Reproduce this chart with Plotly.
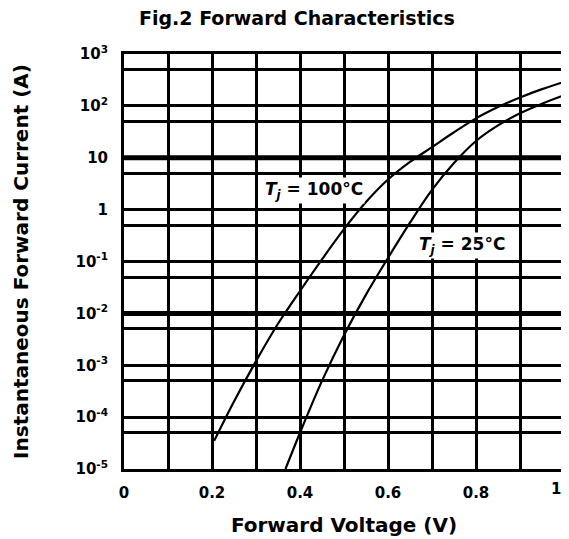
import plotly.graph_objects as go

# ---- data ----
v_100 = [0.205, 0.25, 0.30, 0.35, 0.40, 0.45, 0.50, 0.55, 0.60, 0.65, 0.70, 0.75, 0.80, 0.85, 0.90, 0.95, 1.00]
i_100 = [3.5e-5, 2.0e-4, 1.2e-3, 6.3e-3, 0.027, 0.11, 0.42, 1.4, 3.8, 8.3, 16.0, 31.0, 57.5, 95.0, 145.0, 210.0, 290.0]

v_25 = [0.367, 0.40, 0.45, 0.50, 0.55, 0.60, 0.65, 0.70, 0.75, 0.80, 0.85, 0.90, 0.95, 1.00]
i_25 = [1.0e-5, 5.0e-5, 5.0e-4, 3.8e-3, 0.023, 0.117, 0.56, 2.4, 7.9, 21.0, 42.0, 72.0, 110.0, 160.0]

x_grid = [0.0, 0.1, 0.2, 0.3, 0.4, 0.5, 0.6, 0.7, 0.8, 0.9, 1.0]
x_labels = ["0", "", "0.2", "", "0.4", "", "0.6", "", "0.8", "", ""]

y_decades = [1e-5, 1e-4, 1e-3, 1e-2, 1e-1, 1, 10, 100, 1000]
y_labels = ["10<sup>-5</sup>", "10<sup>-4</sup>", "10<sup>-3</sup>", "10<sup>-2</sup>",
            "10<sup>-1</sup>", "1", "10", "10<sup>2</sup>", "10<sup>3</sup>"]
y_fives = [5e-5, 5e-4, 5e-3, 5e-2, 0.5, 5, 50, 500]
thick_lines = [10, 0.01]

FONT = "DejaVu Sans"
TICKFONT = dict(family=FONT, size=15, color="black", weight="bold")
LABELFONT = dict(family=FONT, size=17, color="black", weight="bold")

fig = go.Figure()
fig.add_trace(go.Scatter(x=v_100, y=i_100, mode="lines", line=dict(color="black", width=2.2, shape="spline"),
                         showlegend=False, hoverinfo="skip"))
fig.add_trace(go.Scatter(x=v_25, y=i_25, mode="lines", line=dict(color="black", width=2.2, shape="spline"),
                         showlegend=False, hoverinfo="skip"))

for yv in thick_lines:
    fig.add_shape(type="line", xref="paper", x0=0, x1=1, yref="y", y0=yv, y1=yv,
                  line=dict(color="black", width=5), layer="below")

fig.add_annotation(x=0.432, y=0.37, xref="x", yref="y",
                   text="<i>T<sub>j</sub></i> = 100°C", showarrow=False,
                   font=LABELFONT, bgcolor="white", borderpad=1)
fig.add_annotation(x=0.768, y=-0.69, xref="x", yref="y",
                   text="<i>T<sub>j</sub></i> = 25°C", showarrow=False,
                   font=LABELFONT, bgcolor="white", borderpad=1)
# last x tick label, shifted inside the page as in the reference
fig.add_annotation(x=1.0, y=0, xref="x", yref="paper", yanchor="top", xanchor="center",
                   xshift=-8, yshift=-9, text="1", showarrow=False, font=TICKFONT)

fig.update_layout(
    width=561, height=531,
    margin=dict(l=116, r=2, t=46, b=70),
    paper_bgcolor="white", plot_bgcolor="white",
    title=dict(text="Fig.2 Forward Characteristics", x=0.515, xanchor="center", y=0.98, yanchor="middle",
               font=dict(family=FONT, size=19, color="black", weight="bold")),
    xaxis=dict(range=[0, 1], tickmode="array", tickvals=x_grid, ticktext=x_labels,
               showgrid=True, gridcolor="black", gridwidth=3,
               showline=True, linecolor="black", linewidth=3, mirror=True,
               ticks="", tickfont=TICKFONT, ticklabelstandoff=8, zeroline=False,
               title=dict(text="Forward Voltage (V)", standoff=17,
                          font=dict(family=FONT, size=20, color="black", weight="bold"))),
    yaxis=dict(type="log", range=[-5, 3], tickmode="array", tickvals=y_decades, ticktext=y_labels,
               showgrid=True, gridcolor="black", gridwidth=3,
               minor=dict(tickmode="array", tickvals=y_fives, showgrid=True, gridcolor="black", gridwidth=3, ticks=""),
               showline=True, linecolor="black", linewidth=3, mirror=True,
               ticks="", tickfont=TICKFONT, ticklabelstandoff=10, zeroline=False,
               title=dict(text="Instantaneous Forward Current (A)", standoff=42,
                          font=dict(family=FONT, size=20, color="black", weight="bold"))),
)

fig.write_html("out.html")
